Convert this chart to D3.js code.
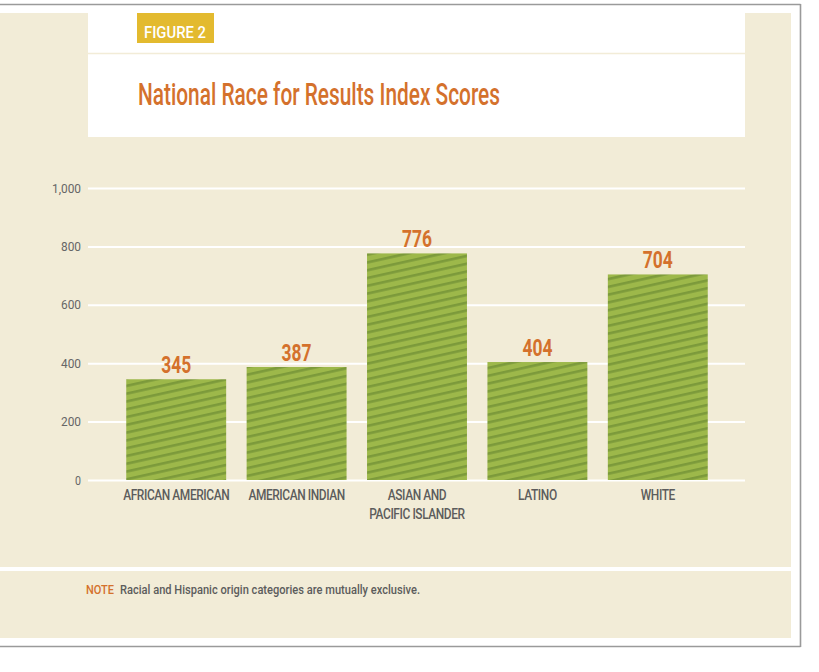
<!DOCTYPE html>
<html><head><meta charset="utf-8">
<script src="https://cdn.jsdelivr.net/npm/d3@7/dist/d3.min.js"></script>
<style>
html,body{margin:0;padding:0;background:#fff;}
svg{display:block;}
text{font-family:Roboto,"DejaVu Sans Condensed",sans-serif;}
</style></head>
<body>
<svg id="chart" width="819" height="672"></svg>
<script>
const categories = ["AFRICAN AMERICAN","AMERICAN INDIAN","ASIAN AND PACIFIC ISLANDER","LATINO","WHITE"];
const categoryLines = [["AFRICAN AMERICAN"],["AMERICAN INDIAN"],["ASIAN AND","PACIFIC ISLANDER"],["LATINO"],["WHITE"]];
const scores = [345, 387, 776, 404, 704];
const yTicks = [0, 200, 400, 600, 800, 1000];
const tickLabels = ["0","200","400","600","800","1,000"];
const figureLabel = "FIGURE 2";
const titleText = "National Race for Results Index Scores";
const noteLabel = "NOTE";
const noteText = "Racial and Hispanic origin categories are mutually exclusive.";

const beige = "#F2ECD7", orange = "#D4712C", gold = "#E3BA2F", green = "#9DB84A", stripe = "#7C9A3B", gray = "#5C5C5C";
const svg = d3.select("#chart");

// compress a group of texts by the same factor so that its first element has the given width
function squeezeTo(sel, firstWidth){
  const nodes = sel.nodes();
  const f = firstWidth / nodes[0].getComputedTextLength();
  nodes.forEach(n => {
    const w = n.getComputedTextLength();
    d3.select(n).attr("textLength", w*f).attr("lengthAdjust","spacingAndGlyphs");
  });
}
function fitTo(sel, width){
  sel.attr("textLength", width).attr("lengthAdjust","spacingAndGlyphs");
}

// stripe pattern
const defs = svg.append("defs");
const pat = defs.append("pattern").attr("id","stripes").attr("patternUnits","userSpaceOnUse")
  .attr("width",40).attr("height",7.6).attr("patternTransform","rotate(-12.5)");
pat.append("rect").attr("width",40).attr("height",7.6).attr("fill",green);
pat.append("rect").attr("y",0).attr("width",40).attr("height",2.6).attr("fill",stripe);

// frame
svg.append("rect").attr("x",0).attr("y",13).attr("width",791).attr("height",554).attr("fill",beige);
svg.append("rect").attr("x",0).attr("y",571).attr("width",791).attr("height",67).attr("fill",beige);
svg.append("line").attr("x1",0).attr("x2",800.5).attr("y1",4.5).attr("y2",4.5).attr("stroke","#9a9a9a").attr("stroke-width",1.6);
svg.append("line").attr("x1",0).attr("x2",800.5).attr("y1",646.5).attr("y2",646.5).attr("stroke","#9a9a9a").attr("stroke-width",1.6);
svg.append("line").attr("x1",800.5).attr("x2",800.5).attr("y1",4).attr("y2",647).attr("stroke","#9a9a9a").attr("stroke-width",1.6);

// header
svg.append("rect").attr("x",88).attr("y",13).attr("width",657).attr("height",124).attr("fill","#fff");
svg.append("line").attr("x1",88).attr("x2",745).attr("y1",53.5).attr("y2",53.5).attr("stroke",beige).attr("stroke-width",1.5);
svg.append("rect").attr("x",137).attr("y",13).attr("width",77).attr("height",30).attr("fill",gold);
svg.append("text").attr("x",144).attr("y",38).attr("fill","#fff").attr("font-size",16.5).attr("font-weight",500)
  .text(figureLabel).call(fitTo,62);
svg.append("text").attr("x",138).attr("y",105).attr("fill",orange).attr("font-size",30.5).attr("font-weight",500)
  .text(titleText).call(fitTo,362);

// scales
const x = d3.scaleBand().domain(categories).range([116,718]).paddingInner(0.17).paddingOuter(0.085);
const y = d3.scaleLinear().domain([0,1000]).range([480,188]);

// grid + y labels
const yAxis = d3.axisLeft(y).tickValues(yTicks).tickSize(-(745-88)).tickPadding(7)
  .tickFormat((d,i)=>tickLabels[i]);
const gAxis = svg.append("g").attr("transform","translate(88,0)").call(yAxis);
gAxis.select(".domain").remove();
gAxis.selectAll(".tick line").attr("stroke","#fff").attr("stroke-width",2);
gAxis.selectAll(".tick text").attr("fill","#666").attr("font-size",12.5)
  .attr("font-family","Roboto,'DejaVu Sans Condensed',sans-serif");
squeezeTo(gAxis.selectAll(".tick text").filter((d,i)=>i>0), 20);
gAxis.selectAll(".tick text").filter((d,i)=>i===0).each(function(){
  const w=this.getComputedTextLength(); d3.select(this).attr("textLength",w*0.85).attr("lengthAdjust","spacingAndGlyphs");});

// bars
svg.append("g").selectAll("rect").data(scores).join("rect")
  .attr("x",(d,i)=>x(categories[i])).attr("width",x.bandwidth())
  .attr("y",d=>y(d)).attr("height",d=>y(0)-y(d)).attr("fill","url(#stripes)");

// values
const vt = svg.append("g").selectAll("text").data(scores).join("text")
  .attr("x",(d,i)=>x(categories[i])+x.bandwidth()/2).attr("y",d=>y(d)-6)
  .attr("text-anchor","middle").attr("fill",orange).attr("font-weight","bold").attr("font-size",23.5)
  .text(d=>d);
squeezeTo(vt, 30);

// category labels (one text element per line)
const lineData = [];
categoryLines.forEach((lines,i)=>lines.forEach((t,j)=>lineData.push({cat:categories[i], t, j})));
const ct = svg.append("g").selectAll("text").data(lineData).join("text")
  .attr("x",d=>x(d.cat)+x.bandwidth()/2).attr("y",d=>500+d.j*19)
  .attr("text-anchor","middle").attr("fill",gray).attr("font-size",14.2).attr("font-weight",500)
  .attr("letter-spacing","-0.5px")
  .text(d=>d.t);
squeezeTo(ct, 106);

// note
svg.append("text").attr("x",86).attr("y",594).attr("fill",orange).attr("font-size",13).attr("font-weight",500).text(noteLabel).call(fitTo,28);
svg.append("text").attr("x",120).attr("y",594).attr("fill",gray).attr("font-size",13).attr("font-weight",500).text(noteText).call(fitTo,300);
</script>
</body></html>
